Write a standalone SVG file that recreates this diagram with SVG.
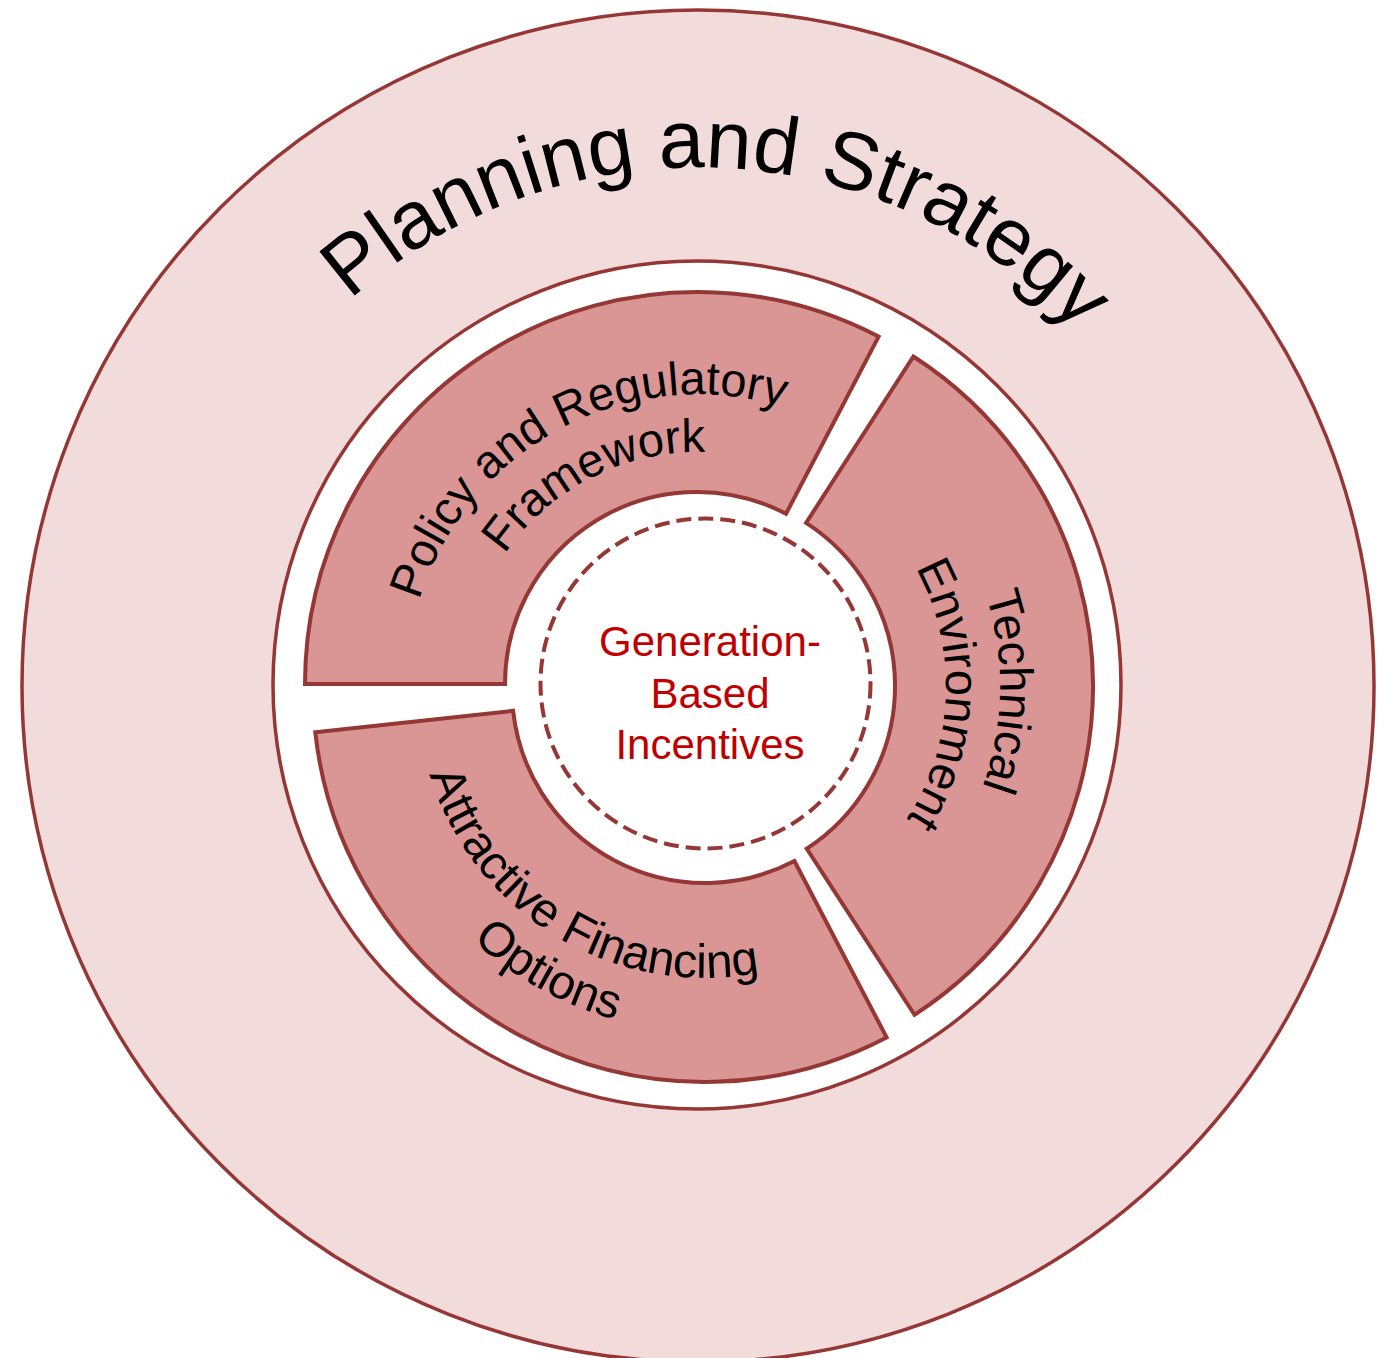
<svg xmlns="http://www.w3.org/2000/svg" width="1394" height="1358" viewBox="0 0 1394 1358">
  <style>
    .ring { stroke: #953735; stroke-width: 3.5; }
    .seg { fill: #D99694; stroke: #953735; stroke-width: 4; stroke-linejoin: miter; }
    .lbl { font-family: "Liberation Sans", Arial, sans-serif; fill: #000000; text-anchor: middle; }
    .core { font-family: "Liberation Sans", Arial, sans-serif; fill: #C00000; font-size: 42px; text-anchor: middle; }
  </style>
  <defs>
    <path id="pPlan" d="M 176.5 665.2 A 522 522 0 0 1 1219.5 710.8"/>
    <path id="pPol1" d="M 439.2 821.1 A 292 292 0 0 1 954.8 546.9"/>
    <path id="pPol2" d="M 488.5 790.2 A 234 234 0 0 1 905.5 577.8"/>
    <path id="pTec1" d="M 706.2 387.0 A 299 299 0 0 1 695.8 985.0"/>
    <path id="pTec2" d="M 709.6 441.2 A 245 245 0 0 1 692.4 930.9"/>
    <path id="pAtt1" d="M 458.1 541.7 A 288 288 0 0 0 951.9 838.3"/>
    <path id="pAtt2" d="M 403.3 522.7 A 345 345 0 0 0 1006.7 857.3"/>
  </defs>

  <g id="planning-strategy">
    <circle cx="698" cy="686" r="676" fill="#F2DCDB" class="ring"/>
    <text class="lbl" font-size="82"><textPath href="#pPlan" startOffset="50%">Planning and Strategy</textPath></text>
  </g>

  <g id="inner-ring">
    <circle cx="697" cy="685" r="424" fill="#FFFFFF" class="ring"/>
  </g>

  <g id="policy">
    <path class="seg" d="M 305 684 A 392 392 0 0 1 878.6 336.6 L 786.0 513.8 A 192 192 0 0 0 505 684 Z"/>
    <text class="lbl" font-size="47"><textPath href="#pPol1" startOffset="50%">Policy and Regulatory</textPath></text>
    <text class="lbl" font-size="47"><textPath href="#pPol2" startOffset="50%">Framework</textPath></text>
  </g>

  <g id="technical">
    <path class="seg" d="M 913.4 356.5 A 392 392 0 0 1 914.5 1014.8 L 806.7 848.7 A 194 194 0 0 0 806.1 522.9 Z"/>
    <text class="lbl" font-size="47"><textPath href="#pTec1" startOffset="50%">Technical</textPath></text>
    <text class="lbl" font-size="47"><textPath href="#pTec2" startOffset="50%">Environment</textPath></text>
  </g>

  <g id="financing">
    <path class="seg" d="M 886.6 1037.4 A 392 392 0 0 1 315.3 732.3 L 513.1 710.8 A 193 193 0 0 0 794.4 861.0 Z"/>
    <text class="lbl" font-size="48"><textPath href="#pAtt1" startOffset="50%">Attractive Financing</textPath></text>
    <text class="lbl" font-size="48"><textPath href="#pAtt2" startOffset="50%">Options</textPath></text>
  </g>

  <g id="generation-based-incentives">
    <circle cx="705.5" cy="683.5" r="165" fill="none" stroke="#953735" stroke-width="4" stroke-dasharray="15 7"/>
    <text class="core" x="710" y="656">Generation-</text>
    <text class="core" x="710" y="708">Based</text>
    <text class="core" x="710" y="759">Incentives</text>
  </g>

  <g id="connectors"/>
</svg>
